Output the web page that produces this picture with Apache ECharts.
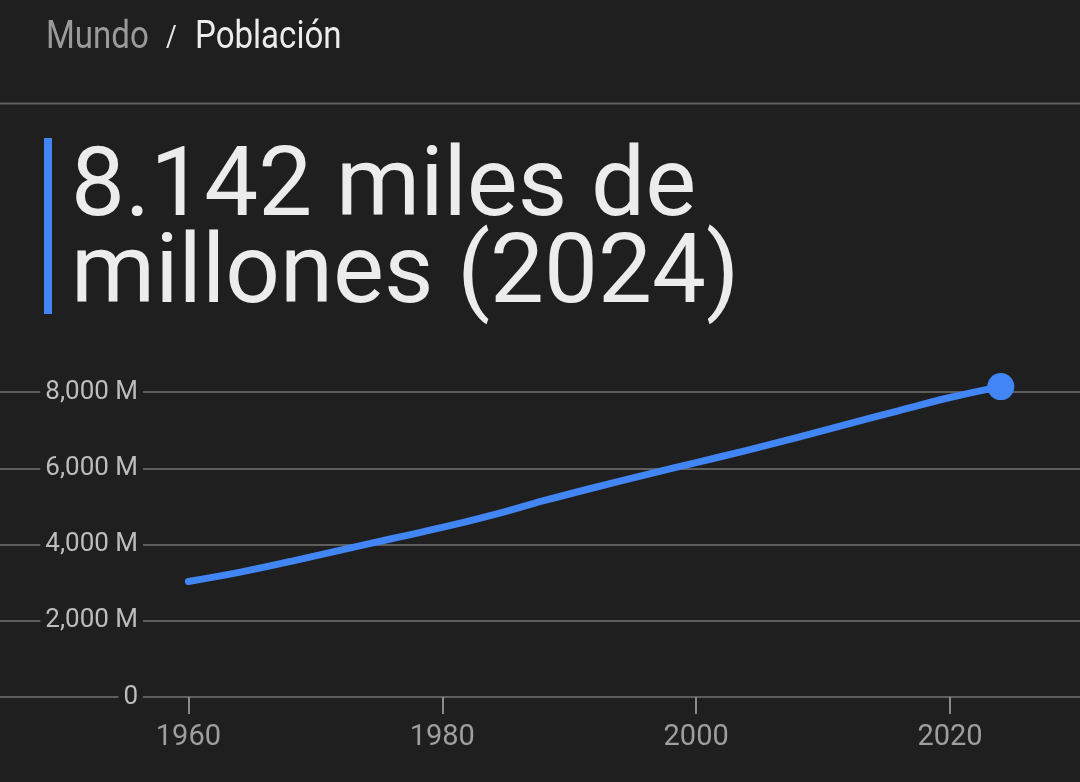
<!DOCTYPE html>
<html>
<head>
    <meta charset="UTF-8">
    <title>Población mundial</title>
    <script src="https://cdn.jsdelivr.net/npm/echarts@6/dist/echarts.min.js"></script>
    <style>
        body, html {
            margin: 0;
            padding: 0;
            height: 100%;
            width: 100%;
            background: #1f1f1f;
        }

        #chart {
            width: 1080px;
            height: 782px;
        }
    </style>
</head>
<body>
<div id="chart"></div>
<script>
    // población mundial, millones de personas
    var years = [1960, 1964, 1968, 1972, 1976, 1980, 1984, 1988, 1992, 1996, 2000, 2004, 2008, 2012, 2016, 2020, 2024];
    var population = [3031, 3270, 3553, 3852, 4150, 4447, 4779, 5148, 5495, 5826, 6149, 6469, 6810, 7162, 7514, 7856, 8142];
    var xTicks = [1960, 1980, 2000, 2020];
    var yTicks = [0, 2000, 4000, 6000, 8000];

    var breadcrumb = ['Mundo', '/', 'Población'];
    var headline = ['8.142 miles de', 'millones (2024)'];

    var labelColor = '#bdbdbd';
    var gridColor = '#5e5e5e';
    var blue = '#4285f4';

    var chart = echarts.init(document.getElementById('chart'), null, {renderer: 'canvas'});

    var lineData = years.map(function (y, i) {
        return [y, population[i]];
    });
    var last = lineData[lineData.length - 1];

    var option = {
        backgroundColor: '#1f1f1f',
        animation: false,
        grid: {left: 0, right: 0, top: 392, bottom: 85},
        xAxis: {
            type: 'value',
            min: 1945.16,
            max: 2030.24,
            splitLine: {show: false},
            axisLine: {show: false},
            axisTick: {
                show: true,
                customValues: xTicks,
                length: 17,
                lineStyle: {color: '#8a8a8a', width: 2}
            },
            axisLabel: {
                customValues: xTicks,
                color: '#9e9e9e',
                fontFamily: 'Roboto',
                fontSize: 29,
                margin: 26,
                formatter: function (v) {
                    return String(v);
                }
            }
        },
        yAxis: {
            type: 'value',
            min: yTicks[0],
            max: yTicks[yTicks.length - 1],
            interval: 2000,
            offset: -145,
            axisLine: {show: false},
            axisTick: {show: false},
            splitLine: {lineStyle: {color: gridColor, width: 2}},
            axisLabel: {
                color: labelColor,
                fontFamily: 'Roboto',
                fontSize: 26,
                margin: 2,
                backgroundColor: '#1f1f1f',
                padding: [2, 5],
                formatter: function (v) {
                    return v === 0 ? '0' : v.toLocaleString('en-US') + ' M';
                }
            }
        },
        series: [
            {
                type: 'line',
                data: lineData,
                smooth: 0.4,
                showSymbol: false,
                clip: false,
                lineStyle: {color: blue, width: 7, cap: 'round'},
                itemStyle: {color: blue},
                z: 3
            },
            {
                type: 'scatter',
                data: [last],
                symbolSize: 27,
                clip: false,
                itemStyle: {color: blue, opacity: 1},
                z: 4
            }
        ],
        graphic: [
            {
                type: 'text', x: 46, y: 38, scaleX: 0.87,
                style: {text: breadcrumb[0], x: 0, y: 0, font: '38px Roboto', fill: '#9a9a9a', verticalAlign: 'middle'}
            },
            {
                type: 'text', x: 166, y: 38, scaleX: 0.87,
                style: {text: breadcrumb[1], x: 0, y: 0, font: '30px Roboto', fill: '#e8e8e8', verticalAlign: 'middle'}
            },
            {
                type: 'text', x: 195, y: 38, scaleX: 0.87,
                style: {text: breadcrumb[2], x: 0, y: 0, font: '38px Roboto', fill: '#ececec', verticalAlign: 'middle'}
            },
            {
                type: 'rect',
                shape: {x: 0, y: 102.5, width: 1080, height: 2},
                style: {fill: gridColor}
            },
            {
                type: 'rect',
                shape: {x: 44, y: 138, width: 8, height: 176},
                style: {fill: blue}
            },
            {
                type: 'text', x: 71, y: 191,
                style: {text: headline[0], font: '96px Roboto', fill: '#ececec', verticalAlign: 'middle'}
            },
            {
                type: 'text', x: 71, y: 278,
                style: {text: headline[1], font: '96px Roboto', fill: '#ececec', verticalAlign: 'middle'}
            }
        ]
    };

    chart.setOption(option);
</script>
</body>
</html>
